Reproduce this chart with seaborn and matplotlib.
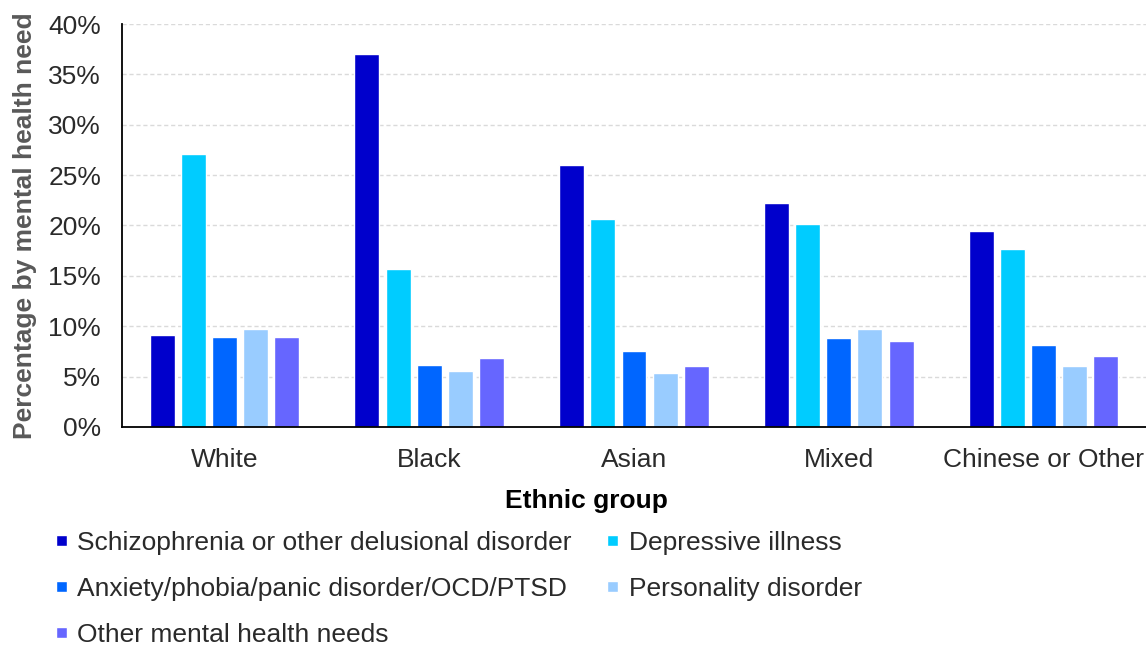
import matplotlib
matplotlib.use("Agg")
import matplotlib.pyplot as plt
import seaborn as sns
import pandas as pd
from matplotlib.ticker import PercentFormatter

# Data (percent)
groups = ["White", "Black", "Asian", "Mixed", "Chinese or Other"]
needs = [
    "Schizophrenia or other delusional disorder",
    "Depressive illness",
    "Anxiety/phobia/panic disorder/OCD/PTSD",
    "Personality disorder",
    "Other mental health needs",
]
schizophrenia = [9.1, 37.0, 26.0, 22.2, 19.5]
depressive = [27.1, 15.7, 20.6, 20.1, 17.7]
anxiety = [8.9, 6.2, 7.5, 8.8, 8.1]
personality = [9.7, 5.6, 5.4, 9.7, 6.1]
other_needs = [8.9, 6.8, 6.1, 8.5, 7.0]
colors = ["#0000CC", "#00CCFF", "#0066FF", "#99CCFF", "#6666FF"]

series = [schizophrenia, depressive, anxiety, personality, other_needs]
rows = []
for need, values in zip(needs, series):
    for group, v in zip(groups, values):
        rows.append({"Ethnic group": group, "Need": need, "Share": v})
df = pd.DataFrame(rows)

sns.set_theme(style="white")
plt.rcParams["font.family"] = ["Liberation Sans", "DejaVu Sans"]

fig = plt.figure(figsize=(11.46, 6.46), dpi=100)
ax = fig.add_axes([122 / 1146, (646 - 427) / 646, 1024 / 1146, 403 / 646])

sns.barplot(
    data=df, x="Ethnic group", y="Share", hue="Need",
    order=groups, hue_order=needs, palette=colors,
    width=0.76, gap=0.2, saturation=1, errorbar=None, ax=ax,
)

text_color = "#2a2a2a"
ax.set_ylim(0, 40)
ax.set_yticks(range(0, 41, 5))
ax.yaxis.set_major_formatter(PercentFormatter(decimals=0))
ax.tick_params(axis="both", length=0, labelsize=19, colors=text_color)
ax.tick_params(axis="y", pad=15)
ax.tick_params(axis="x", pad=15)
ax.yaxis.grid(True, color="#dadada", linestyle=(0, (3, 2)), linewidth=1)
ax.set_axisbelow(True)
for side in ["top", "right"]:
    ax.spines[side].set_visible(False)
for side in ["left", "bottom"]:
    ax.spines[side].set_color("black")
    ax.spines[side].set_linewidth(1.3)

ax.set_ylabel("Percentage by mental health need", fontsize=19,
              fontweight="bold", color="#595959", labelpad=8)
ax.set_xlabel("")
fig.text(0.512, 0.225, "Ethnic group", ha="center", va="center",
         fontsize=19, fontweight="bold", color="black")

# legend filled row-wise like the original
handles, labels = ax.get_legend_handles_labels()
ax.get_legend().remove()
order = [0, 2, 4, 1, 3]
fig.legend(
    [handles[i] for i in order], [labels[i] for i in order],
    ncol=2, loc="upper left", bbox_to_anchor=(0.049, 0.178),
    frameon=False, fontsize=19, labelcolor=text_color,
    handlelength=0.4, handleheight=0.3, handletextpad=0.4,
    labelspacing=0.83, columnspacing=1.35, borderpad=0, borderaxespad=0,
)

fig.savefig("out.png", dpi=100)
